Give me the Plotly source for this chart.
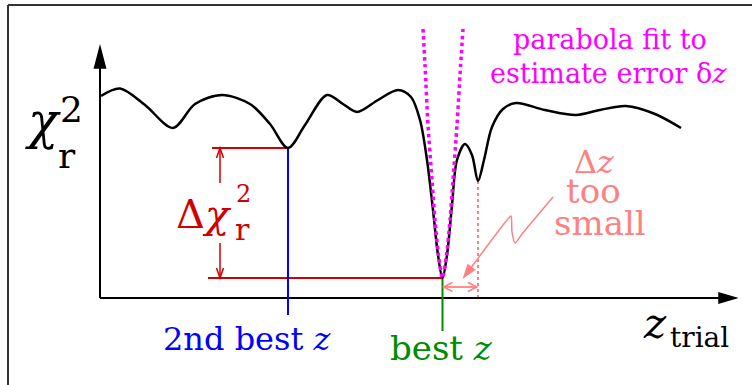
import plotly.graph_objects as go

# schematic chi^2_r(z_trial) curve, arbitrary units (10 px per unit)
z_trial = [0.1, 2.0, 4.5, 7.3, 9.5, 12.2, 15.0, 17.0, 18.8, 20.5,
           22.7, 24.3, 25.7, 27.8, 29.8, 31.1, 32.0, 32.7, 33.3, 33.8,
           34.25, 34.7, 35.2, 35.7, 36.5, 37.2, 37.8, 38.4, 39.2, 40.3,
           41.6, 44.5, 47.6, 50.0, 52.6, 55.5, 58.1]
chi2_r = [20.2, 20.95, 19.3, 17.0, 19.4, 20.3, 19.4, 17.4, 15.0, 17.3,
          20.3, 19.4, 18.6, 19.8, 20.8, 20.1, 17.8, 13.8, 8.8, 4.3,
          2.0, 4.3, 9.3, 13.8, 15.4, 14.3, 11.7, 13.8, 17.1, 18.9,
          19.5, 18.8, 18.3, 18.8, 19.2, 18.4, 17.0]

# parabola fitted around the best minimum
parab_z = [32.3, 32.5, 32.8, 33.2, 33.5, 33.85, 34.25, 34.65, 35.0, 35.3, 35.7, 36.0, 36.3]
parab_chi = [26.9, 23.3, 17.3, 11.8, 7.8, 4.3, 2.0, 4.3, 7.8, 11.8, 17.3, 22.3, 26.9]

best_z, best_chi = 34.25, 2.0
second_z, second_chi = 18.8, 15.0
near_z, near_chi = 37.8, 11.7

# wiggly pointer to the "Delta z too small" gap
squig_z = [45.3, 42.2, 41.5, 41.2, 41.1, 40.7, 37.0, 36.4]
squig_chi = [10.1, 6.4, 5.5, 6.6, 8.2, 7.8, 2.9, 2.1]

BLACK = "#000000"
RED = "#d00000"
BLUE = "#0000ff"
GREEN = "#008c00"
PINK = "#ff8080"
MAGENTA = "#ff00ff"
FONT = "DejaVu Serif"

fig = go.Figure()


def line(xs, ys, color, width=2, dash=None, shape="linear", smoothing=1.0):
    fig.add_scatter(
        x=xs, y=ys, mode="lines",
        line={"color": color, "width": width, "dash": dash, "shape": shape,
              "smoothing": smoothing},
        hoverinfo="skip", showlegend=False,
    )


def head(tx, ty, dx, dy, length, width, color, filled=True, lw=1.5):
    # arrow head with tip at (tx, ty) pointing along (dx, dy); sizes in px
    n = (dx * dx + dy * dy) ** 0.5
    ux, uy = dx / n, dy / n
    bx, by = tx - ux * length / 10, ty - uy * length / 10
    px, py = -uy * width / 20, ux * width / 20
    if filled:
        path = f"M{tx},{ty} L{bx + px},{by + py} L{bx - px},{by - py} Z"
    else:
        path = f"M{bx + px},{by + py} L{tx},{ty} L{bx - px},{by - py}"
    fig.add_shape(
        type="path", path=path, xref="x", yref="y",
        line={"color": color, "width": lw},
        fillcolor=color if filled else "rgba(0,0,0,0)",
    )


def label(text, x, y, size, color):
    fig.add_annotation(
        x=x, y=y, xref="x", yref="y", text=text, showarrow=False,
        xanchor="center", yanchor="middle",
        font={"family": FONT, "size": size, "color": color},
    )


# axes with arrows
line([0, 0], [0, 23.5], BLACK, 2)
head(0, 25.1, 0, 1, 21, 11, BLACK)
line([0, 62.5], [0, 0], BLACK, 2)
head(63.6, 0, 1, 0, 17, 10, BLACK)

# delta chi^2 construction
line([11.2, second_z], [second_chi, second_chi], RED, 2)
line([10.8, best_z], [best_chi, best_chi], RED, 2)
line([12.0, 12.0], [11.5, second_chi - 0.3], RED, 1.5)
head(12.0, second_chi, 0, 1, 10, 7, RED, filled=False)
line([12.0, 12.0], [5.5, best_chi + 0.3], RED, 1.5)
head(12.0, best_chi, 0, -1, 10, 7, RED, filled=False)

# markers of the minima
line([second_z, second_z], [second_chi, -1.7], BLUE, 2)
line([best_z, best_z], [best_chi, -3.3], GREEN, 2)
line([near_z, near_z], [near_chi, 0.1], PINK, 2, dash="dot")

# Delta z gap
line([best_z + 0.2, near_z - 0.2], [1.1, 1.1], PINK, 1.8)
head(best_z + 0.1, 1.1, -1, 0, 9, 9, PINK, filled=False)
head(near_z - 0.1, 1.1, 1, 0, 9, 9, PINK, filled=False)
line(squig_z, squig_chi, PINK, 1.5, shape="spline", smoothing=0.7)
head(36.4, 2.1, -0.6, -0.8, 12, 8, PINK)

# chi^2 curve and parabola fit
line(z_trial, chi2_r, BLACK, 2.5, shape="spline", smoothing=0.9)
line(parab_z, parab_chi, MAGENTA, 3.5, dash="dot", shape="spline", smoothing=0.8)

# texts
label("<i>χ</i>", -5.7, 17.7, 50, BLACK)
label("2", -2.9, 18.85, 36, BLACK)
label("r", -3.3, 14.25, 36, BLACK)
label("Δ<i>χ</i>", 10.4, 8.4, 40, RED)
label("2", 14.3, 10.4, 24, RED)
label("r", 14.2, 6.85, 30, RED)
label("parabola fit to", 51.0, 25.9, 27, MAGENTA)
label("estimate error δ<i>z</i>", 50.8, 22.5, 27, MAGENTA)
label("Δ<i>z</i>", 49.4, 13.6, 32, PINK)
label("too", 49.35, 10.7, 34, PINK)
label("small", 50.0, 7.5, 34, PINK)
label("2nd best <i>z</i>", 14.7, -4.1, 32, BLUE)
label("best <i>z</i>", 34.1, -5.0, 34, GREEN)
label("<i>z</i>", 55.5, -2.55, 42, BLACK)
label("trial", 59.9, -3.9, 28, BLACK)

# outer frame (top and left edges)
fig.add_shape(type="line", xref="x", yref="y", x0=-9.2, y0=29.3, x1=65.2, y1=29.3,
              line={"color": "#333333", "width": 2})
fig.add_shape(type="line", xref="x", yref="y", x0=-9.2, y0=29.3, x1=-9.2, y1=-8.7,
              line={"color": "#333333", "width": 2})

fig.update_layout(
    width=752, height=385,
    margin={"l": 0, "r": 0, "t": 0, "b": 0},
    paper_bgcolor="white", plot_bgcolor="white",
    showlegend=False,
    xaxis={"range": [-10, 65.2], "visible": False, "fixedrange": True},
    yaxis={"range": [-8.7, 29.8], "visible": False, "fixedrange": True},
)
fig.write_html(
    "out.html",
    config={"displayModeBar": False},
    post_script="document.body.style.margin = '0';",
)
